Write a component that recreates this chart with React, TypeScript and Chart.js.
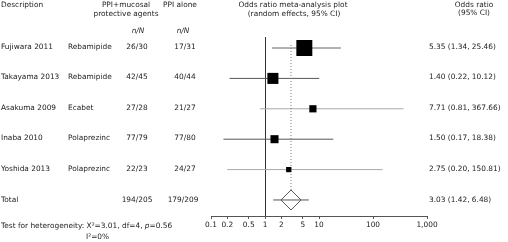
import { useEffect, useRef } from "react";
import { Chart, registerables } from "chart.js";

Chart.register(...registerables);

// ---------- data ----------
const studies = ["Fujiwara 2011", "Takayama 2013", "Asakuma 2009", "Inaba 2010", "Yoshida 2013"];
const agents = ["Rebamipide", "Rebamipide", "Ecabet", "Polaprezinc", "Polaprezinc"];
const treatedCounts = ["26/30", "42/45", "27/28", "77/79", "22/23"];
const controlCounts = ["17/31", "40/44", "21/27", "77/80", "24/27"];
const oddsRatios = [5.35, 1.4, 7.71, 1.5, 2.75];
const ciLower = [1.34, 0.22, 0.81, 0.17, 0.2];
const ciUpper = [25.46, 10.12, 367.66, 18.38, 150.81];
const totalTreated = "194/205";
const totalControl = "179/209";
const pooledOR = 3.03;
const pooledLower = 1.42;
const pooledUpper = 6.48;
const chiSquare = 3.01;
const degreesFreedom = 4;
const pValue = 0.56;
const iSquare = 0;
const tickValues = [0.1, 0.2, 0.5, 1, 2, 5, 10, 100, 1000];
const tickLabels = ["0.1", "0.2", "0.5", "1", "2", "5", "10", "100", "1,000"];

// ---------- styles ----------
const squareRadius = [11.3, 7.8, 5.1, 5.7, 3.7];
const ciColors = ["#666666", "#555555", "#aaaaaa", "#555555", "#aaaaaa"];
const FS = 7.4;
const FONT = `${FS}px "DejaVu Sans", Verdana, sans-serif`;
const IFONT = `italic ${FS}px "DejaVu Sans", Verdana, sans-serif`;
const TEXT = "#222222";

const fmt = (v: number) => v.toFixed(2);

const textPlugin = {
  id: "forestText",
  afterDraw(chart: any) {
    const ctx = chart.ctx as CanvasRenderingContext2D;
    const ys = chart.scales.y;
    ctx.save();
    ctx.fillStyle = TEXT;
    ctx.font = FONT;
    ctx.textBaseline = "middle";

    const put = (t: string, x: number, y: number, align: CanvasTextAlign, font = FONT) => {
      ctx.font = font;
      ctx.textAlign = align;
      ctx.fillText(t, x, y);
    };

    // headers
    put("Description", 1, 5, "left");
    put("PPI+mucosal", 126, 5, "center");
    put("protective agents", 126, 14, "center");
    put("PPI alone", 180, 5, "center");
    put("n/N", 138, 31, "center", IFONT);
    put("n/N", 183, 31, "center", IFONT);
    put("Odds ratio meta-analysis plot", 293, 5, "center");
    put("(random effects, 95% CI)", 294, 14, "center");
    put("Odds ratio", 474, 5, "center");
    put("(95% CI)", 474, 13, "center");

    studies.forEach((s, i) => {
      const y = ys.getPixelForValue(i) - 1;
      put(s, 1, y, "left");
      put(agents[i], 68, y, "left");
      put(treatedCounts[i], 137, y, "center");
      put(controlCounts[i], 185, y, "center");
      put(`${fmt(oddsRatios[i])} (${fmt(ciLower[i])}, ${fmt(ciUpper[i])})`, 429, y, "left");
    });
    const yt = ys.getPixelForValue(studies.length);
    put("Total", 1, yt, "left");
    put(totalTreated, 137, yt, "center");
    put(totalControl, 183, yt, "center");
    put(`${fmt(pooledOR)} (${fmt(pooledLower)}, ${fmt(pooledUpper)})`, 429, yt, "left");

    // heterogeneity
    const yh = 226;
    let x = 1;
    const seg = (t: string, font: string) => {
      ctx.font = font;
      ctx.textAlign = "left";
      ctx.fillText(t, x, yh);
      x += ctx.measureText(t).width;
    };
    seg(`Test for heterogeneity: X\u00b2=${chiSquare.toFixed(2)}, df=${degreesFreedom}, `, FONT);
    seg("p", IFONT);
    seg(`=${pValue.toFixed(2)}`, FONT);
    put(`I\u00b2=${iSquare}%`, 86, 237, "left");
    ctx.restore();
  },
};

export default function App() {
  const ref = useRef<HTMLCanvasElement | null>(null);

  useEffect(() => {
    if (!ref.current) return;
    const n = studies.length;
    const datasets: any[] = [];

    // squares (drawn on top: first dataset)
    datasets.push({
      type: "scatter",
      data: oddsRatios.map((v, i) => ({ x: v, y: i })),
      pointStyle: "rect",
      pointRadius: squareRadius,
      pointBackgroundColor: "#000000",
      pointBorderWidth: 0,
      showLine: false,
    });
    // pooled diamond
    datasets.push({
      type: "scatter",
      data: [{ x: pooledOR, y: n }],
      pointStyle: "rectRot",
      pointRadius: 10,
      pointBackgroundColor: "rgba(0,0,0,0)",
      pointBorderColor: "#555555",
      pointBorderWidth: 1,
      showLine: false,
    });
    // dotted pooled line
    datasets.push({
      type: "line",
      data: [
        { x: pooledOR, y: -0.1 },
        { x: pooledOR, y: n - 0.33 },
      ],
      borderColor: "#777777",
      borderWidth: 1,
      borderDash: [1, 2],
      pointRadius: 0,
      fill: false,
    });
    // CI lines
    studies.forEach((_, i) => {
      datasets.push({
        type: "line",
        data: [
          { x: ciLower[i], y: i },
          { x: ciUpper[i], y: i },
        ],
        borderColor: ciColors[i],
        borderWidth: 1,
        pointRadius: 0,
        fill: false,
      });
    });
    datasets.push({
      type: "line",
      data: [
        { x: pooledLower, y: n },
        { x: pooledUpper, y: n },
      ],
      borderColor: "#555555",
      borderWidth: 1,
      pointRadius: 0,
      fill: false,
    });

    const chart = new Chart(ref.current, {
      type: "scatter",
      data: { datasets },
      options: {
        animation: false,
        responsive: false,
        devicePixelRatio: 1,
        layout: { padding: { left: 211, right: 81, top: 37, bottom: 0 } },
        plugins: { legend: { display: false }, tooltip: { enabled: false }, title: { display: false } },
        scales: {
          x: {
            type: "logarithmic",
            min: 0.1,
            max: 1000,
            afterBuildTicks: (scale: any) => {
              scale.ticks = tickValues.map((v) => ({ value: v }));
            },
            afterFit: (scale: any) => {
              scale.height = 26;
            },
            ticks: {
              autoSkip: false,
              maxRotation: 0,
              padding: 2,
              color: TEXT,
              font: { family: '"DejaVu Sans", Verdana, sans-serif', size: FS },
              callback: (_v: any, i: number) => tickLabels[i],
            },
            grid: {
              color: (c: any) => (c.tick && c.tick.value === 1 ? "#333333" : "rgba(0,0,0,0)"),
              tickColor: "#555555",
              tickLength: 3,
              lineWidth: 1,
            },
            border: { display: true, color: "#555555", width: 1 },
          },
          y: {
            type: "linear",
            display: false,
            reverse: true,
            min: -0.362,
            max: 5.527,
          },
        },
      },
      plugins: [textPlugin],
    } as any);

    return () => chart.destroy();
  }, []);

  return (
    <div style={{ position: "fixed", left: 0, top: 0, width: 508, height: 242, background: "#fff" }}>
      <canvas ref={ref} width={508} height={242} style={{ width: 508, height: 242, display: "block" }} />
    </div>
  );
}
